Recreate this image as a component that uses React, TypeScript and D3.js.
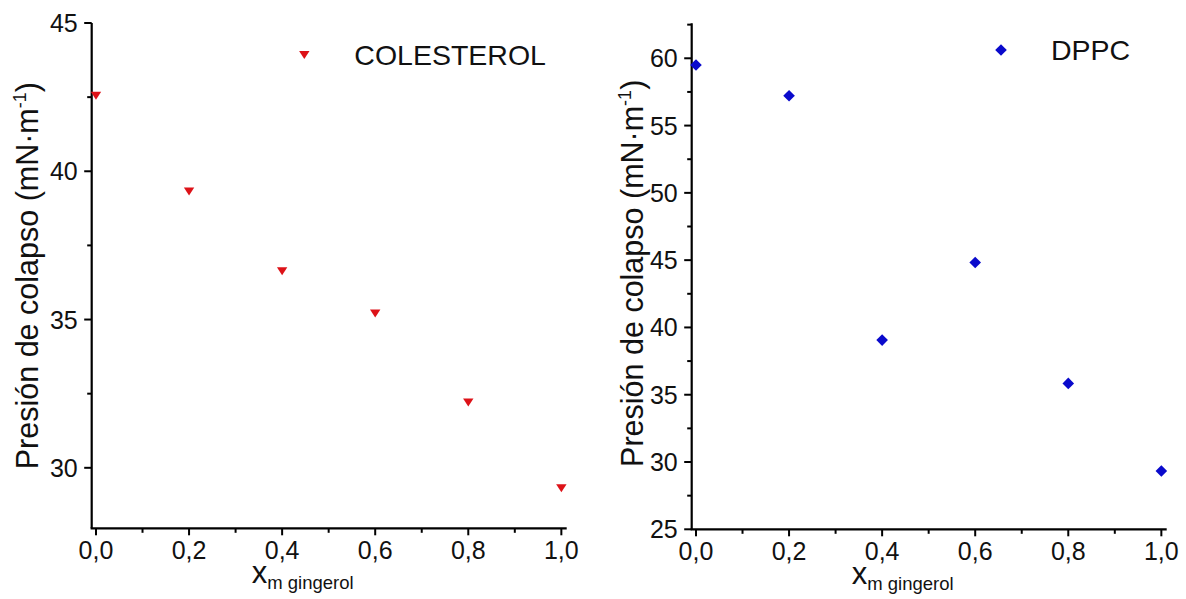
import React from "react";
import * as d3 from "d3";

// Colapse pressure vs. gingerol molar fraction for two monolayer lipids
const xFractions = [0.0, 0.2, 0.4, 0.6, 0.8, 1.0];
const colesterolPressure = [42.55, 39.32, 36.63, 35.2, 32.2, 29.31];
const dppcPressure = [59.5, 57.22, 39.06, 44.82, 35.84, 29.33];

const xTicks = [0, 0.2, 0.4, 0.6, 0.8, 1.0];
const xMinorTicks = [0.1, 0.3, 0.5, 0.7, 0.9];
const colesterolYTicks = [30, 35, 40, 45];
const colesterolYMinor = [32.5, 37.5, 42.5];
const dppcYTicks = [25, 30, 35, 40, 45, 50, 55, 60];
const dppcYMinor = [27.5, 32.5, 37.5, 42.5, 47.5, 52.5, 57.5, 62.5];

const FONT = "'Liberation Sans', Arial, sans-serif";
const fmt = (v: number) => v.toFixed(1).replace(".", ",");

type PanelProps = {
  left: number;
  right: number;
  top: number;
  bottom: number;
  yDomain: [number, number];
  yTicks: number[];
  yMinor: number[];
  values: number[];
  color: string;
  marker: "triangle" | "diamond";
  legendLabel: string;
  legendX: number;
  legendY: number;
  titleX: number;
  titleDy: number;
};

function Marker({ kind, x, y, color }: { kind: string; x: number; y: number; color: string }) {
  if (kind === "triangle") {
    const w = 5.2;
    const h = 8;
    return (
      <path
        d={`M${x - w},${y - h / 2} L${x + w},${y - h / 2} L${x},${y + h / 2} Z`}
        fill={color}
      />
    );
  }
  const r = 5.8;
  return <path d={`M${x},${y - r} L${x + r},${y} L${x},${y + r} L${x - r},${y} Z`} fill={color} />;
}

function Panel(p: PanelProps) {
  const x = d3.scaleLinear().domain([-0.0092, 1.0115]).range([p.left, p.right]);
  const y = d3.scaleLinear().domain(p.yDomain).range([p.bottom, p.top]);
  const midY = (p.top + p.bottom) / 2 + p.titleDy;
  return (
    <g>
      {/* axes */}
      <line x1={p.left} x2={p.left} y1={p.top} y2={p.bottom} stroke="#000" strokeWidth={2.2} />
      <line x1={p.left - 1.1} x2={p.right} y1={p.bottom} y2={p.bottom} stroke="#000" strokeWidth={2.2} />
      {p.yTicks.map((t) => (
        <g key={"yt" + t}>
          <line x1={p.left - 7.5} x2={p.left} y1={y(t)} y2={y(t)} stroke="#000" strokeWidth={2} />
          <text
            x={p.left - 14}
            y={y(t)}
            dy="0.36em"
            textAnchor="end"
            fontFamily={FONT}
            fontSize={25}
            fill="#111"
          >
            {t}
          </text>
        </g>
      ))}
      {p.yMinor.map((t) => (
        <line key={"ym" + t} x1={p.left - 4.5} x2={p.left} y1={y(t)} y2={y(t)} stroke="#000" strokeWidth={2} />
      ))}
      {xTicks.map((t) => (
        <g key={"xt" + t}>
          <line x1={x(t)} x2={x(t)} y1={p.bottom} y2={p.bottom + 7} stroke="#000" strokeWidth={2} />
          <text
            x={x(t)}
            y={p.bottom + 31}
            textAnchor="middle"
            fontFamily={FONT}
            fontSize={25}
            fill="#111"
          >
            {fmt(t)}
          </text>
        </g>
      ))}
      {xMinorTicks.map((t) => (
        <line key={"xm" + t} x1={x(t)} x2={x(t)} y1={p.bottom} y2={p.bottom + 4.5} stroke="#000" strokeWidth={2} />
      ))}
      {/* axis titles */}
      <text
        transform={`translate(${p.titleX},${midY}) rotate(-90)`}
        textAnchor="middle"
        fontFamily={FONT}
        fontSize={30.5}
        fill="#111"
      >
        Presión de colapso (mN·m
        <tspan dy={-12} fontSize={18}>-1</tspan>
        <tspan dy={12}>)</tspan>
      </text>
      <text x={p.left + 160} y={p.bottom + 55} fontFamily={FONT} fontSize={31} fill="#111">
        x
        <tspan dy={6} fontSize={18.5}>m gingerol</tspan>
      </text>
      {/* data */}
      {xFractions.map((xf, i) => (
        <Marker key={"m" + i} kind={p.marker} x={x(xf)} y={y(p.values[i])} color={p.color} />
      ))}
      {/* legend */}
      <Marker kind={p.marker} x={p.legendX} y={p.legendY} color={p.color} />
      <text x={p.legendX + 50} y={p.legendY} dy="0.36em" fontFamily={FONT} fontSize={28.5} fill="#111">
        {p.legendLabel}
      </text>
    </g>
  );
}

export default function App() {
  return (
    <svg
      width={1186}
      height={599}
      style={{ position: "absolute", left: 0, top: 0, background: "#fff" }}
    >
      <rect width={1186} height={599} fill="#fff" />
      <Panel
        left={91.7}
        right={566.7}
        top={23}
        bottom={528.3}
        yDomain={[27.96, 45]}
        yTicks={colesterolYTicks}
        yMinor={colesterolYMinor}
        values={colesterolPressure}
        color="#dd1218"
        marker="triangle"
        legendLabel="COLESTEROL"
        legendX={304.3}
        legendY={55}
        titleX={38}
        titleDy={0}
      />
      <Panel
        left={691.7}
        right={1166.7}
        top={23.3}
        bottom={529.3}
        yDomain={[25, 62.6]}
        yTicks={dppcYTicks}
        yMinor={dppcYMinor.filter((v) => v < 62.6)}
        values={dppcPressure}
        color="#0a0acc"
        marker="diamond"
        legendLabel="DPPC"
        legendX={1001}
        legendY={50}
        titleX={642.5}
        titleDy={-3}
      />
    </svg>
  );
}
